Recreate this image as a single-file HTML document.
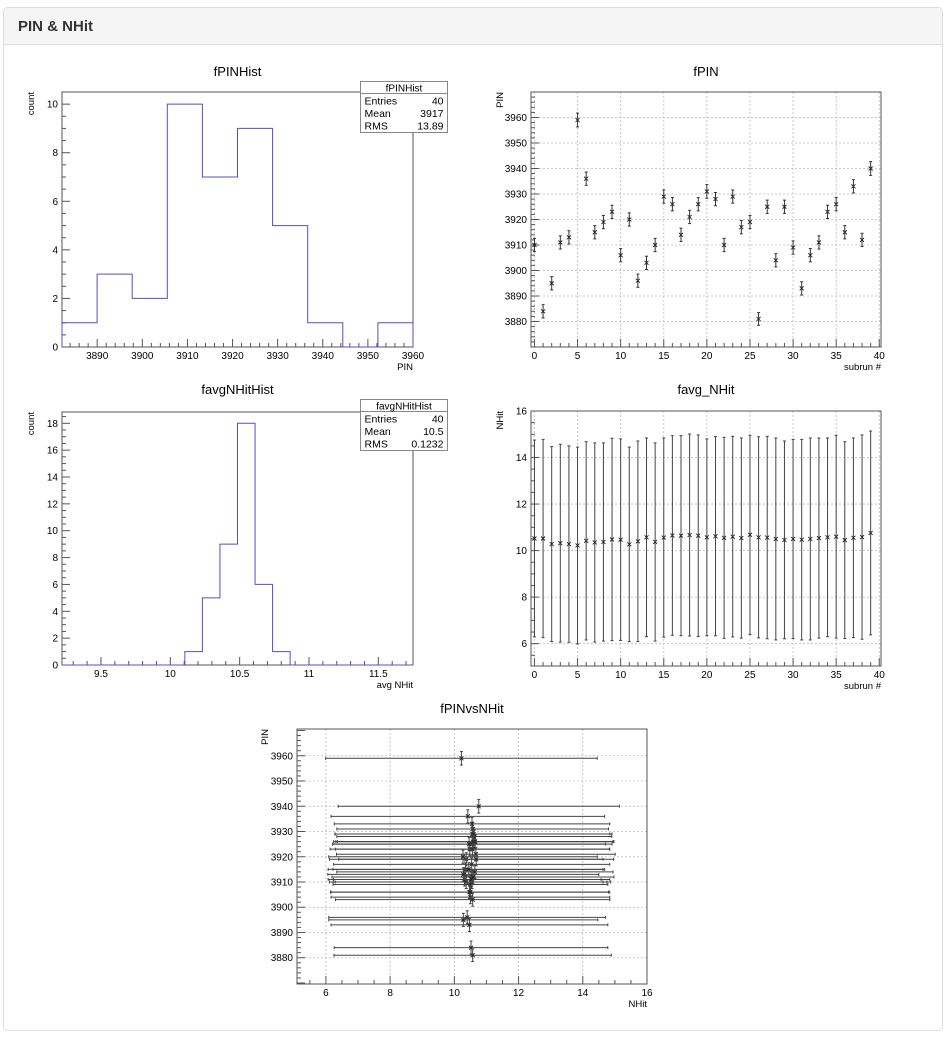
<!DOCTYPE html>
<html><head><meta charset="utf-8">
<style>
html,body{margin:0;padding:0;background:#fff;}
svg{display:block;font-family:"Liberation Sans",Arial,sans-serif;}
</style></head>
<body>
<svg id="root" width="950" height="1037" viewBox="0 0 950 1037" xmlns="http://www.w3.org/2000/svg">
<rect x="3.5" y="7.5" width="939" height="1023" rx="4" fill="#fff" stroke="#dddddd"/>
<path d="M4 44 V11.5 Q4 8 7.5 8 H938.5 Q942 8 942 11.5 V44 Z" fill="#f5f5f5"/>
<line x1="4" y1="44.5" x2="942" y2="44.5" stroke="#dddddd"/>
<text x="18" y="31" font-size="15" font-weight="bold" fill="#333">PIN &amp; NHit</text>
<g id="plots"></g>
</svg>
<script>
// ---- data ----
const subruns = [0,1,2,3,4,5,6,7,8,9,10,11,12,13,14,15,16,17,18,19,20,21,22,23,24,25,26,27,28,29,30,31,32,33,34,35,36,37,38,39];
const pinValues = [3910,3884,3895,3911,3913,3959,3936,3915,3919,3923,3906,3920,3896,3903,3910,3929,3926,3914,3921,3926,3931,3928,3910,3929,3917,3919,3881,3925,3904,3925,3909,3893,3906,3911,3923,3926,3915,3933,3912,3940];
const pinErrors = [2.6,2.6,2.6,2.6,2.6,2.7,2.6,2.6,2.6,2.6,2.6,2.6,2.6,2.6,2.6,2.6,2.6,2.6,2.6,2.6,2.7,2.6,2.6,2.6,2.6,2.6,2.5,2.6,2.6,2.6,2.6,2.6,2.6,2.6,2.6,2.6,2.6,2.6,2.6,2.7];
const nhitValues = [10.52,10.52,10.28,10.32,10.28,10.22,10.42,10.35,10.37,10.48,10.47,10.27,10.40,10.57,10.37,10.56,10.65,10.64,10.67,10.64,10.57,10.62,10.55,10.60,10.54,10.68,10.57,10.56,10.50,10.46,10.50,10.47,10.50,10.54,10.57,10.60,10.45,10.55,10.58,10.76];
const nhitErrors = [4.23,4.26,4.19,4.25,4.22,4.23,4.26,4.28,4.26,4.35,4.33,4.18,4.31,4.27,4.26,4.28,4.29,4.30,4.34,4.33,4.23,4.28,4.32,4.31,4.30,4.28,4.32,4.35,4.34,4.25,4.28,4.31,4.34,4.30,4.27,4.36,4.23,4.29,4.39,4.38];
const pinHistCounts = [1,3,2,10,7,9,5,1,0,1];
const pinHistRange = [3882.2,3960];
const nhitHistCounts = [0,0,0,0,0,0,0,1,5,9,18,6,1,0,0,0,0,0,0,0];
const nhitHistRange = [9.219,11.75];
const pinStats = ["fPINHist","40","3917","13.89"];
const nhitStats = ["favgNHitHist","40","10.5","0.1232"];

const NS = "http://www.w3.org/2000/svg";
const root = document.getElementById('plots');
function el(tag, attrs, parent){
  const e = document.createElementNS(NS, tag);
  for (const k in attrs) e.setAttribute(k, attrs[k]);
  (parent||root).appendChild(e);
  return e;
}
function txt(s, x, y, size, anchor, parent, rot){
  const t = el('text', {x:x, y:y, 'font-size':size, 'text-anchor':anchor||'start', fill:'#000'}, parent);
  if (rot) t.setAttribute('transform', 'rotate(-90 '+x+' '+y+')');
  t.textContent = s;
  return t;
}
function fmt(v){ return (Math.round(v*1000)/1000).toString(); }

function makeFrame(c){
  const g = el('g', {});
  
  
  const sx = v => c.x0 + (v - c.xmin) / (c.xmax - c.xmin) * (c.x1 - c.x0);
  const sy = v => c.y1 - (v - c.ymin) / (c.ymax - c.ymin) * (c.y1 - c.y0);
  const eps = 1e-6;
  // grid
  if (c.grid){
    for (let v = c.xMaj[0]; v <= c.xMaj[1] + eps; v += c.xMaj[2]){
      const gl = el('line', {x1:sx(v), x2:sx(v), y1:c.y0, y2:c.y1, stroke:'#bbb', 'stroke-dasharray':'2,2', 'stroke-width':0.8}, g);
      
      
    }
    for (let v = c.yMaj[0]; v <= c.yMaj[1] + eps; v += c.yMaj[2]){
      const gl = el('line', {x1:c.x0, x2:c.x1, y1:sy(v), y2:sy(v), stroke:'#bbb', 'stroke-dasharray':'2,2', 'stroke-width':0.8}, g);
      
      
    }
  }
  el('rect', {x:c.x0, y:c.y0, width:c.x1-c.x0, height:c.y1-c.y0, fill:'none', stroke:'#555', 'stroke-width':1}, g);
  // x ticks
  const xa = el('g', {}, g);
  
  
  for (let v = Math.ceil(c.xmin / c.xMin - eps) * c.xMin; v <= c.xmax + eps; v += c.xMin){
    const isMaj = Math.abs(Math.round((v - c.xMaj[0]) / c.xMaj[2]) * c.xMaj[2] - (v - c.xMaj[0])) < 1e-4;
    const L = isMaj ? 8 : 4;
    el('line', {x1:sx(v), x2:sx(v), y1:c.y1, y2:c.y1 - L, stroke:'#555', 'stroke-width':1}, xa);
  }
  for (let v = c.xMaj[0]; v <= c.xMaj[1] + eps; v += c.xMaj[2]){
    const t = txt(fmt(v), sx(v), c.y1 + 12, 10, 'middle', xa);
    
    
  }
  const xt = txt(c.xTitle, c.x1, c.y1 + 23, 9.5, 'end', g);
  
  
  // y ticks
  const ya = el('g', {}, g);
  
  
  for (let v = Math.ceil(c.ymin / c.yMin - eps) * c.yMin; v <= c.ymax + eps; v += c.yMin){
    const isMaj = Math.abs(Math.round((v - c.yMaj[0]) / c.yMaj[2]) * c.yMaj[2] - (v - c.yMaj[0])) < 1e-4;
    const L = isMaj ? 8 : 4;
    el('line', {x1:c.x0, x2:c.x0 + L, y1:sy(v), y2:sy(v), stroke:'#555', 'stroke-width':1}, ya);
  }
  for (let v = c.yMaj[0]; v <= c.yMaj[1] + eps; v += c.yMaj[2]){
    const t = txt(fmt(v), c.x0 - 4, sy(v) + 3.5, 10, 'end', ya);
    
    
  }
  const yt = txt(c.yTitle, c.yTitleX, c.y0 + c.yTitleDy, 9.5, 'end', g, true);
  
  
  const tt = txt(c.title, (c.x0 + c.x1) / 2 + c.titleDx, c.titleY, 13, 'middle', g);
  
  
  return {sx, sy, g};
}

function drawHist(F, counts, range, name){
  const n = counts.length, w = (range[1] - range[0]) / n;
  let d = '';
  for (let i = 0; i < n; i++){
    const a = F.sx(range[0] + i*w), b = F.sx(range[0] + (i+1)*w), y = F.sy(counts[i]);
    d += (i === 0 ? 'M' + a + ' ' + y : 'L' + a + ' ' + y) + ' L' + b + ' ' + y + ' ';
  }
  d += 'L' + F.sx(range[1]) + ' ' + F.sy(0);
  d = 'M' + F.sx(range[0]) + ' ' + F.sy(0) + ' ' + d.replace(/^M/, 'L');
  const p = el('path', {d:d, fill:'none', stroke:'#5050c8', 'stroke-width':1}, F.g);
  
  
}

function drawStats(x0, y0, vals, name){
  const g = el('g', {});
  
  
  el('rect', {x:x0, y:y0, width:87, height:51, fill:'#fff', stroke:'#888', 'stroke-width':1}, g);
  el('line', {x1:x0, x2:x0+87, y1:y0+12, y2:y0+12, stroke:'#888'}, g);
  txt(vals[0], x0 + 43.5, y0 + 10, 10, 'middle', g);
  const labels = ['Entries','Mean','RMS'];
  for (let i = 0; i < 3; i++){
    txt(labels[i], x0 + 4, y0 + 23 + i*12.5, 10.5, 'start', g);
    txt(vals[i+1], x0 + 83, y0 + 23 + i*12.5, 10.5, 'end', g);
  }
}

function drawPoints(F, xs, ys, xe, ye, name, col){
  const g = el('g', {}, F.g);
  
  
  for (let i = 0; i < xs.length; i++){
    const x = F.sx(xs[i]), y = F.sy(ys[i]);
    if (xe){
      const a = F.sx(xs[i] - xe[i]), b = F.sx(xs[i] + xe[i]);
      el('line', {x1:a, x2:b, y1:y, y2:y, stroke:col, 'stroke-width':1}, g);
      el('line', {x1:a, x2:a, y1:y-1.5, y2:y+1.5, stroke:col, 'stroke-width':1}, g);
      el('line', {x1:b, x2:b, y1:y-1.5, y2:y+1.5, stroke:col, 'stroke-width':1}, g);
    }
    if (ye){
      const a = F.sy(ys[i] - ye[i]), b = F.sy(ys[i] + ye[i]);
      el('line', {x1:x, x2:x, y1:a, y2:b, stroke:col, 'stroke-width':1}, g);
      el('line', {x1:x-1.5, x2:x+1.5, y1:a, y2:a, stroke:col, 'stroke-width':1}, g);
      el('line', {x1:x-1.5, x2:x+1.5, y1:b, y2:b, stroke:col, 'stroke-width':1}, g);
    }
    el('path', {d:'M'+(x-2)+' '+(y-2)+' L'+(x+2)+' '+(y+2)+' M'+(x-2)+' '+(y+2)+' L'+(x+2)+' '+(y-2), stroke:'#222', 'stroke-width':0.9}, g);
  }
}

// Chart 1: fPINHist
const F1 = makeFrame({name:'fpinhist-chart', x0:62, x1:413, y0:92, y1:347, xmin:3882.2, xmax:3960, ymin:0, ymax:10.5,
  xMaj:[3890,3960,10], xMin:2, yMaj:[0,10,2], yMin:0.5, xTitle:'PIN', yTitle:'count', yTitleX:34, yTitleDy:0,
  title:'fPINHist', titleDx:0, titleY:76, grid:false});
drawHist(F1, pinHistCounts, pinHistRange, 'pin-histogram');
drawStats(360.5, 81.5, pinStats, 'fpinhist-stats-box');

// Chart 2: fPIN
const F2 = makeFrame({name:'fpin-chart', x0:531, x1:881, y0:92, y1:347, xmin:-0.4, xmax:40.2, ymin:3870, ymax:3970,
  xMaj:[0,40,5], xMin:1, yMaj:[3880,3960,10], yMin:2, xTitle:'subrun #', yTitle:'PIN', yTitleX:503, yTitleDy:0,
  title:'fPIN', titleDx:0, titleY:76, grid:true});
drawPoints(F2, subruns, pinValues, null, pinErrors, 'pin-points', '#333');

// Chart 3: favgNHitHist
const F3 = makeFrame({name:'favgnhithist-chart', x0:62, x1:413, y0:412, y1:665, xmin:9.219, xmax:11.75, ymin:0, ymax:18.84,
  xMaj:[9.5,11.5,0.5], xMin:0.1, yMaj:[0,18,2], yMin:0.5, xTitle:'avg NHit', yTitle:'count', yTitleX:34, yTitleDy:0,
  title:'favgNHitHist', titleDx:0, titleY:394, grid:false});
drawHist(F3, nhitHistCounts, nhitHistRange, 'nhit-histogram');
drawStats(360.5, 399.5, nhitStats, 'favgnhithist-stats-box');

// Chart 4: favg_NHit
const F4 = makeFrame({name:'favg-nhit-chart', x0:531, x1:881, y0:411, y1:666, xmin:-0.4, xmax:40.2, ymin:5.04, ymax:16,
  xMaj:[0,40,5], xMin:1, yMaj:[6,16,2], yMin:0.5, xTitle:'subrun #', yTitle:'NHit', yTitleX:503, yTitleDy:0,
  title:'favg_NHit', titleDx:0, titleY:394, grid:true});
drawPoints(F4, subruns, nhitValues, null, nhitErrors, 'nhit-points', '#444');

// Chart 5: fPINvsNHit
const F5 = makeFrame({name:'fpinvsnhit-chart', x0:297, x1:647, y0:729, y1:984, xmin:5.1, xmax:16, ymin:3869.6, ymax:3970.6,
  xMaj:[6,16,2], xMin:0.5, yMaj:[3880,3960,10], yMin:2, xTitle:'NHit', yTitle:'PIN', yTitleX:268, yTitleDy:0,
  title:'fPINvsNHit', titleDx:0, titleY:713, grid:true});
drawPoints(F5, nhitValues, pinValues, nhitErrors, pinErrors, 'pin-vs-nhit-points', '#444');
</script>
</body></html>
